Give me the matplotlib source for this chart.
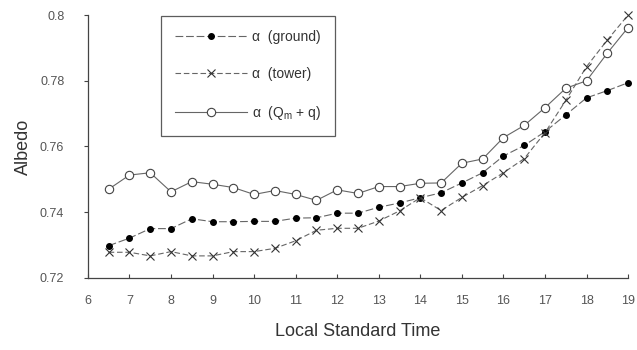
import numpy as np
import matplotlib.pyplot as plt

plt.rcParams['font.family'] = ['Liberation Sans', 'DejaVu Sans']
plt.rcParams['mathtext.default'] = 'regular'

# half-hourly times, 06:30 to 19:00
hours = [6.5, 7, 7.5, 8, 8.5, 9, 9.5, 10, 10.5, 11, 11.5, 12, 12.5,
         13, 13.5, 14, 14.5, 15, 15.5, 16, 16.5, 17, 17.5, 18, 18.5, 19]

albedo_ground = [0.7298, 0.7321, 0.7350, 0.7350, 0.7380, 0.7371, 0.7371, 0.7372,
                 0.7372, 0.7382, 0.7383, 0.7397, 0.7397, 0.7415, 0.7428, 0.7444,
                 0.7459, 0.7489, 0.7520, 0.7571, 0.7603, 0.7645, 0.7696, 0.7748,
                 0.7770, 0.7794]

albedo_tower = [0.7278, 0.7278, 0.7267, 0.7280, 0.7267, 0.7267, 0.7280, 0.7280,
                0.7290, 0.7313, 0.7345, 0.7351, 0.7351, 0.7373, 0.7404, 0.7444,
                0.7405, 0.7445, 0.7481, 0.7520, 0.7563, 0.7642, 0.7740, 0.7843,
                0.7924, 0.8000]

albedo_qm = [0.7470, 0.7513, 0.7520, 0.7462, 0.7493, 0.7485, 0.7475, 0.7454,
             0.7466, 0.7454, 0.7436, 0.7468, 0.7457, 0.7478, 0.7478, 0.7488,
             0.7489, 0.7549, 0.7562, 0.7627, 0.7664, 0.7718, 0.7777, 0.7800,
             0.7884, 0.7962]

x_ticks = list(range(6, 20))
y_ticks = [0.72, 0.74, 0.76, 0.78, 0.8]
y_labels = ['0.72', '0.74', '0.76', '0.78', '0.8']

fig = plt.figure(figsize=(6.37, 3.5), dpi=100)
ax = fig.add_axes([0.138, 0.206, 0.848, 0.751])

line_col = '#666666'
ax.plot(hours, albedo_ground, color=line_col, lw=0.8, ls=(0, (7, 2.5)),
        marker='o', ms=4, mfc='black', mec='black', clip_on=False,
        label=r'α  (ground)', zorder=3)
ax.plot(hours, albedo_tower, color=line_col, lw=0.8, ls=(0, (5, 2.5)),
        marker='x', ms=5.5, mew=0.8, mec='#333333', clip_on=False,
        label=r'α  (tower)', zorder=3)
ax.plot(hours, albedo_qm, color=line_col, lw=0.8, ls='-',
        marker='o', ms=6, mfc='white', mec='#444444', mew=0.8, clip_on=False,
        label=r'α  (Q$_m$ + q)', zorder=3)

ax.set_xlim(6, 19)
ax.set_ylim(0.72, 0.8)
ax.set_xticks(x_ticks)
ax.set_yticks(y_ticks)
ax.set_yticklabels(y_labels)

for s in ['top', 'right']:
    ax.spines[s].set_visible(False)
for s in ['left', 'bottom']:
    ax.spines[s].set_color('#444444')
    ax.spines[s].set_linewidth(0.9)

ax.tick_params(axis='x', direction='in', length=3, width=0.8, color='#444444',
               labelsize=9, labelcolor='#555555', pad=12)
ax.tick_params(axis='y', direction='out', length=3, width=0.8, color='#444444',
               labelsize=9, labelcolor='#555555', pad=14)

ax.set_xlabel('Local Standard Time', fontsize=13, color='#333333', labelpad=12)
ax.set_ylabel('Albedo', fontsize=13, color='#333333', labelpad=6)

leg = ax.legend(loc='upper left', bbox_to_anchor=(0.135, 0.995), frameon=True,
                fancybox=False, edgecolor='#333333', fontsize=10,
                handlelength=5.2, handletextpad=0.4, labelspacing=1.65,
                borderpad=1.0, borderaxespad=0)
leg.get_frame().set_linewidth(0.9)
for t in leg.get_texts():
    t.set_color('#333333')

fig.savefig('out.png', dpi=100, facecolor='white')
